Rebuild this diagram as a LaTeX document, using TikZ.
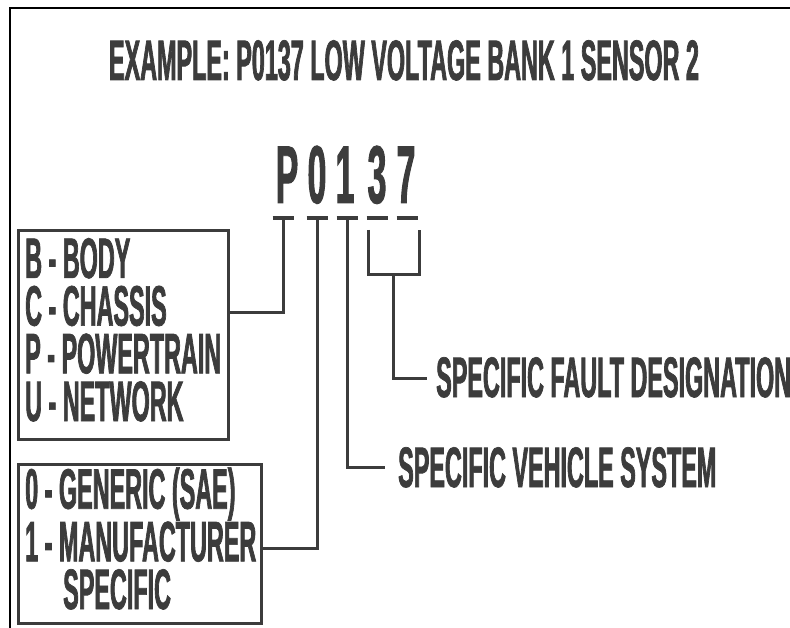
\documentclass[tikz,border=0pt]{standalone}
\usepackage{fontspec}
\newfontfamily\cf{Liberation Sans}[FakeStretch=0.41, FakeBold=1.2]
\definecolor{ink}{HTML}{3C3C3C}
\tikzset{
  lbl/.style={inner sep=0pt, anchor=base west, text=ink, text height=33pt, text depth=1pt, font=\cf\bfseries\fontsize{57}{57}\selectfont},
  blk/.style={inner sep=0pt, anchor=base west, align=left, text=ink, font=\cf\bfseries\fontsize{57}{47.7}\selectfont},
  ttl/.style={inner sep=0pt, anchor=base, text=ink, text height=34pt, text depth=1pt, font=\cf\bfseries\fontsize{57}{57}\selectfont},
  big/.style={inner sep=0pt, anchor=base, text=ink, text height=50pt, text depth=0pt, font=\cf\bfseries\fontsize{82}{82}\selectfont},
  wire/.style={draw=ink, line width=3pt},
  dashline/.style={draw=ink, line width=4pt},
  frame/.style={draw=black, line width=2.5pt},
  boxr/.style={draw=ink, line width=3pt, inner sep=0pt}
}
\begin{document}
\begin{tikzpicture}[x=1pt,y=-1pt]
\clip (0,0) rectangle (790,628);
\fill[white] (0,0) rectangle (790,628);
% frame
\draw[frame] (10,640) -- (10,8) -- (800,8);
% title
\node[ttl] (title) at (404,80) {EXAMPLE: P0137 LOW VOLTAGE BANK 1 SENSOR 2};
% code characters
\node[big] (cP) at (287,203) {P};
\node[big] (c0) at (317,203) {0};
\node[big] (c1) at (345,203) {1};
\node[big] (c3) at (377,203) {3};
\node[big] (c7) at (406,203) {7};
% underline dashes
\coordinate (dP) at (283,218);
\coordinate (d0) at (317,218);
\coordinate (d1) at (347,218);
\coordinate (d3) at (377,218);
\coordinate (d7) at (407,218);
\foreach \d in {dP,d0,d1,d3,d7} \draw[dashline] ([xshift=-10.5pt]\d) -- ([xshift=10.5pt]\d);
% boxes
\node[boxr, minimum width=210pt, minimum height=209pt, anchor=north west] (b1) at (17,229) {};
\node[boxr, minimum width=243pt, minimum height=159pt, anchor=north west] (b2) at (17,463) {};
% box texts (anchored at the baseline of the last line)
\node[blk] (t1) at (25,421) {B - BODY\\C - CHASSIS\\P - POWERTRAIN\\U - NETWORK};
\node[blk] (g1) at (25,609) {0 - GENERIC (SAE)\\1 - MANUFACTURER\\\hspace*{38pt}SPECIFIC};
% right labels
\node[lbl] (vs) at (398,487) {SPECIFIC VEHICLE SYSTEM};
\node[lbl] (fd) at (436,397) {SPECIFIC FAULT DESIGNATION};
% connector joints
\coordinate (jP) at (283,313);
\coordinate (j0) at (317,548);
\coordinate (j1) at (347,467);
\coordinate (e1) at (385,467);
\coordinate (k3) at (368,230);
\coordinate (k7) at (419,230);
\coordinate (km) at (393,275);
\coordinate (kf) at (427,378);
% connectors
\draw[wire] (dP) -- (jP) -- (b1.east |- jP);
\draw[wire] (d0) -- (j0) -- (b2.east |- j0);
\draw[wire] (d1) -- (j1) -- (e1);
\draw[wire] (k3) |- (km) -| (k7);
\draw[wire] (km) |- (kf);
\end{tikzpicture}
\end{document}
